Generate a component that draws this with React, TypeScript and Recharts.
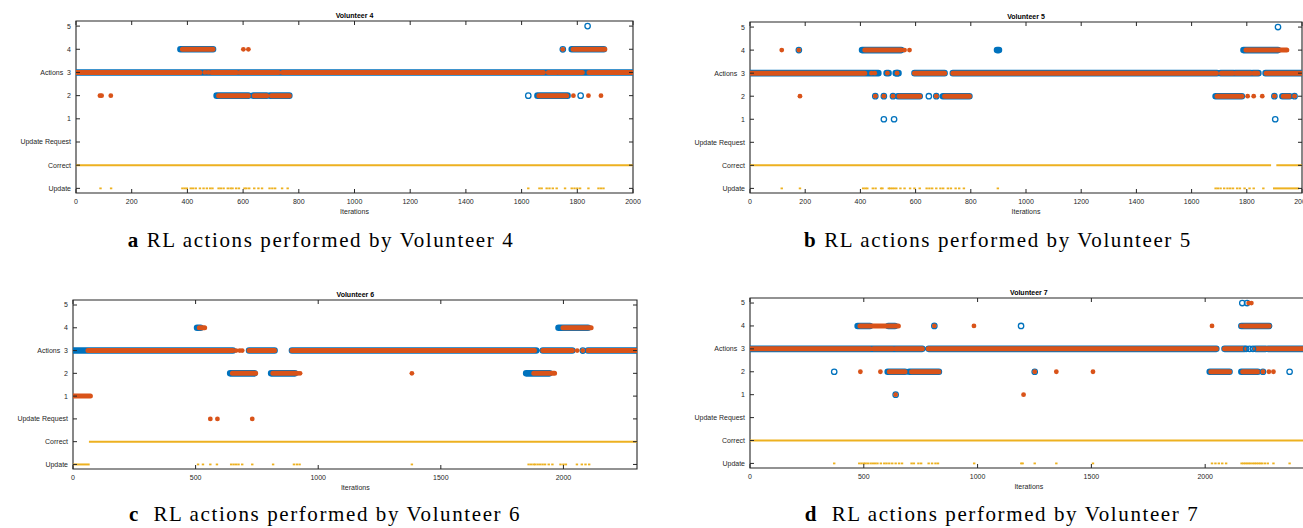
import React from 'react';
import { ComposedChart, Line, Scatter, XAxis, YAxis, ReferenceArea } from 'recharts';

const BLUE = '#0072BD';
const ORANGE = '#D95319';
const YELLOW = '#EDB120';
const INK = '#262626';
const SANS = '"Liberation Sans", Arial, Helvetica, sans-serif';

// y rows, bottom to top
const yLabels = ['Update', 'Correct', 'Update Request', '1', '2', 'Actions  3', '4', '5'];
const yTicks = [0, 1, 2, 3, 4, 5, 6, 7];
const yDomain = [-0.2, 7.22];

// action code -> row (Update Request = 0)
const rowOf = (code: number) => code + 2;

// runs are [action, from, to], dots are [action, iteration]
const v4BlueRuns = [[3, 0, 1995], [4, 375, 492], [4, 1780, 1895], [2, 505, 619], [2, 637, 685], [2, 697, 766], [2, 1657, 1765]];
const v4OrangeRuns = [[3, 0, 445], [3, 487, 577], [3, 589, 727], [3, 742, 1678], [3, 1696, 1725], [3, 1733, 1818], [3, 1842, 1995], [4, 382, 492], [4, 1785, 1899], [2, 512, 619], [2, 640, 685], [2, 702, 766], [2, 1662, 1762]];
const v4BlueDots = [[5, 1837], [2, 1624], [2, 1812], [4, 1748]];
const v4OrangeDots = [[4, 601], [4, 619], [4, 1748], [2, 86], [2, 92], [2, 125], [2, 1786], [2, 1840], [2, 1885], [3, 463], [3, 475]];
const v4Correct = [[0, 2000]];
const v4UpdateRuns: number[][] = [];
const v4UpdateDots = [88, 126, 382, 390, 398, 412, 420, 430, 445, 458, 470, 482, 490, 512, 520, 530, 545, 555, 562, 575, 585, 605, 612, 622, 640, 655, 668, 695, 705, 715, 740, 760, 1624, 1664, 1672, 1690, 1700, 1712, 1726, 1756, 1780, 1790, 1800, 1810, 1840, 1876, 1885, 1894];

const v5BlueRuns = [[3, 0, 465], [3, 495, 502], [3, 528, 538], [3, 596, 705], [3, 735, 1692], [3, 1705, 1752], [3, 1758, 1815], [3, 1822, 1842], [3, 1868, 1998], [4, 406, 548], [4, 895, 902], [4, 1788, 1913], [2, 536, 615], [2, 699, 795], [2, 1687, 1782], [2, 1929, 1955]];
const v5OrangeRuns = [[3, 0, 416], [3, 596, 705], [3, 735, 1690], [3, 1708, 1750], [3, 1760, 1813], [3, 1825, 1840], [3, 1870, 2000], [4, 416, 548], [4, 1797, 1945], [2, 540, 615], [2, 705, 795], [2, 1692, 1782], [2, 1932, 1955]];
const v5BlueDots = [[4, 177], [2, 454], [2, 485], [2, 518], [2, 648], [2, 675], [2, 1900], [2, 1973], [1, 485], [1, 522], [1, 1903], [5, 1913], [3, 533]];
const v5OrangeDots = [[4, 115], [4, 177], [4, 560], [4, 578], [3, 440], [3, 452], [3, 498], [3, 533], [2, 181], [2, 454], [2, 485], [2, 518], [2, 675], [2, 1803], [2, 1825], [2, 1856], [2, 1900], [2, 1973]];
const v5Correct = [[0, 1888], [1907, 2000]];
const v5UpdateRuns = [[1895, 1990]];
const v5UpdateDots = [115, 181, 410, 418, 425, 445, 455, 475, 480, 503, 508, 515, 522, 530, 545, 560, 580, 596, 615, 640, 650, 660, 675, 690, 700, 717, 728, 745, 758, 775, 898, 1687, 1695, 1705, 1718, 1730, 1740, 1750, 1765, 1775, 1792, 1810, 1825, 1860];

const v6BlueRuns = [[3, 0, 652], [3, 718, 822], [3, 893, 1889], [3, 1916, 2036], [3, 2100, 2298], [4, 506, 520], [4, 1980, 2100], [2, 641, 740], [2, 808, 905], [2, 1848, 1943]];
const v6OrangeRuns = [[3, 61, 652], [3, 718, 822], [3, 893, 1882], [3, 1916, 2036], [3, 2100, 2296], [4, 515, 537], [4, 1998, 2113], [2, 650, 745], [2, 815, 910], [2, 1879, 1964], [1, 0, 71]];
const v6BlueDots = [[3, 2079]];
const v6OrangeDots = [[3, 665], [3, 680], [3, 690], [3, 2056], [3, 2079], [2, 918], [2, 926], [2, 1382], [0, 560], [0, 589], [0, 731]];
const v6Correct = [[65, 2300]];
const v6UpdateRuns = [[0, 68]];
const v6UpdateDots = [510, 530, 560, 587, 645, 655, 665, 675, 690, 731, 816, 901, 913, 924, 1382, 1858, 1868, 1878, 1885, 1895, 1905, 1915, 1925, 1940, 1955, 1988, 2000, 2010, 2055, 2075, 2090, 2105];

const v7BlueRuns = [[3, 0, 757], [3, 785, 2049], [3, 2085, 2173], [3, 2221, 2266], [3, 2276, 2450], [4, 473, 527], [4, 608, 637], [4, 2159, 2281], [2, 605, 681], [2, 700, 830], [2, 2020, 2107], [2, 2159, 2231]];
const v7OrangeRuns = [[3, 0, 527], [3, 543, 627], [3, 640, 757], [3, 785, 2049], [3, 2085, 2173], [3, 2221, 2266], [3, 2276, 2450], [4, 483, 652], [4, 2170, 2281], [2, 612, 681], [2, 710, 830], [2, 2025, 2107], [2, 2165, 2231]];
const v7BlueDots = [[5, 2163], [5, 2184], [4, 810], [4, 1191], [2, 370], [2, 1251], [2, 2254], [2, 2371], [1, 640], [3, 2180], [3, 2195], [3, 2210]];
const v7OrangeDots = [[5, 2191], [5, 2203], [4, 810], [4, 984], [4, 2030], [4, 2159], [3, 783], [2, 485], [2, 573], [2, 1251], [2, 1346], [2, 1507], [2, 2254], [2, 2280], [2, 2300], [1, 640], [1, 1202]];
const v7Correct = [[0, 2450]];
const v7UpdateRuns: number[][] = [];
const v7UpdateDots = [370, 480, 490, 500, 508, 518, 530, 540, 550, 560, 575, 590, 600, 612, 625, 640, 655, 668, 710, 720, 740, 752, 785, 800, 815, 826, 985, 1192, 1198, 1251, 1346, 1507, 2030, 2045, 2060, 2075, 2092, 2160, 2168, 2176, 2184, 2192, 2200, 2210, 2218, 2226, 2234, 2242, 2250, 2262, 2275, 2300, 2371];

const ticks2000 = [0, 200, 400, 600, 800, 1000, 1200, 1400, 1600, 1800, 2000];
const ticks500 = [0, 500, 1000, 1500, 2000];

// turn [row, from, to] runs into one broken line
function runLine(runs: number[][]) {
  const out: { x: number; y: number | null }[] = [];
  runs.forEach(([row, a, b]) => {
    out.push({ x: a, y: row }, { x: b, y: row }, { x: b, y: null });
  });
  return out;
}

const actionRuns = (runs: number[][]) => runLine(runs.map(([c, a, b]) => [rowOf(c), a, b]));
const actionDots = (dots: number[][]) => dots.map(([c, x]) => ({ x, y: rowOf(c) }));

const Y_W = 75;
const M_T = 10;
const M_R = 25; // room for the last x tick label
const X_H = 30;

interface PanelProps {
  title: string;
  letter: string;
  caption: string;
  left: number;
  top: number;
  plotW: number;
  plotH: number;
  xMax: number;
  xTicks: number[];
  captionX: number;
  captionY: number;
  blueRuns: number[][];
  orangeRuns: number[][];
  blueDots: number[][];
  orangeDots: number[][];
  correct: number[][];
  updateRuns: number[][];
  updateDots: number[];
}

function Panel(p: PanelProps) {
  const yTick = (t: any) => (
    <g>
      <line x1={t.x} x2={t.x + 4} y1={t.y} y2={t.y} stroke={INK} />
      <line x1={t.x + p.plotW - 4} x2={t.x + p.plotW} y1={t.y} y2={t.y} stroke={INK} />
      <text x={t.x - 5} y={t.y} dy="0.35em" textAnchor="end" fontSize={7} fill={INK} fontFamily={SANS} style={{ whiteSpace: 'pre' }}>
        {yLabels[t.payload.value]}
      </text>
    </g>
  );
  const xTick = (t: any) => (
    <g>
      <line x1={t.x} x2={t.x} y1={t.y} y2={t.y - 4} stroke={INK} />
      <line x1={t.x} x2={t.x} y1={t.y - p.plotH} y2={t.y - p.plotH + 4} stroke={INK} />
      <text x={t.x} y={t.y + 11} textAnchor="middle" fontSize={7} fill={INK} fontFamily={SANS}>
        {t.payload.value}
      </text>
    </g>
  );

  const correctLine = runLine(p.correct.map(([a, b]) => [1, a, b]));
  const updateLine = runLine(p.updateRuns.map(([a, b]) => [0, a, b]));
  const updatePts = p.updateDots.map((x) => ({ x, y: 0 }));

  return (
    <>
      <div style={{ position: 'absolute', left: p.left - Y_W, top: p.top - M_T }}>
        <ComposedChart
          width={p.plotW + Y_W + M_R}
          height={p.plotH + M_T + X_H}
          margin={{ top: M_T, right: M_R, left: 0, bottom: 0 }}
        >
          <XAxis
            type="number"
            dataKey="x"
            domain={[0, p.xMax]}
            ticks={p.xTicks}
            interval={0}
            allowDataOverflow
            axisLine={false}
            tickLine={false}
            tickSize={0}
            tickMargin={0}
            height={X_H}
            tick={xTick}
          />
          <YAxis
            type="number"
            dataKey="y"
            domain={yDomain}
            ticks={yTicks}
            interval={0}
            allowDataOverflow
            axisLine={false}
            tickLine={false}
            tickSize={0}
            tickMargin={0}
            width={Y_W}
            tick={yTick}
          />
          <Line data={correctLine} dataKey="y" stroke={YELLOW} strokeWidth={2} dot={false} isAnimationActive={false} />
          <Line data={updateLine} dataKey="y" stroke={YELLOW} strokeWidth={2} dot={false} isAnimationActive={false} />
          <Scatter
            data={updatePts}
            fill={YELLOW}
            isAnimationActive={false}
            shape={(s: any) => <rect x={s.cx - 1.2} y={s.cy - 0.9} width={2.4} height={1.8} fill={YELLOW} />}
          />
          <Line data={actionRuns(p.blueRuns)} dataKey="y" stroke={BLUE} strokeWidth={6.6} strokeLinecap="round" dot={false} isAnimationActive={false} />
          <Scatter
            data={actionDots(p.blueDots)}
            fill={BLUE}
            isAnimationActive={false}
            shape={(s: any) => <circle cx={s.cx} cy={s.cy} r={2.7} fill="none" stroke={BLUE} strokeWidth={1.3} />}
          />
          <Line data={actionRuns(p.orangeRuns)} dataKey="y" stroke={ORANGE} strokeWidth={5} strokeLinecap="round" dot={false} isAnimationActive={false} />
          <Scatter
            data={actionDots(p.orangeDots)}
            fill={ORANGE}
            isAnimationActive={false}
            shape={(s: any) => <circle cx={s.cx} cy={s.cy} r={2.4} fill={ORANGE} />}
          />
          <ReferenceArea x1={0} x2={p.xMax} y1={yDomain[0]} y2={yDomain[1]} fill="none" stroke={INK} strokeWidth={1.1} ifOverflow="visible" />
        </ComposedChart>
      </div>
      <div style={{ position: 'absolute', left: p.left + p.plotW / 2, top: p.top - 6, transform: 'translate(-50%, -50%)', font: `bold 7px ${SANS}`, color: '#000', whiteSpace: 'nowrap' }}>
        {p.title}
      </div>
      <div style={{ position: 'absolute', left: p.left + p.plotW / 2, top: p.top + p.plotH + 18, transform: 'translate(-50%, -50%)', font: `7px ${SANS}`, color: INK, whiteSpace: 'nowrap' }}>
        Iterations
      </div>
      <div style={{ position: 'absolute', left: p.captionX, top: p.captionY, transform: 'translate(-50%, -50%)', fontFamily: '"Liberation Serif", "Times New Roman", serif', fontSize: 21, letterSpacing: 1.6, color: '#000', whiteSpace: 'pre' }}>
        <b>{p.letter}</b>{p.caption}
      </div>
    </>
  );
}

export default function App() {
  return (
    <div style={{ position: 'fixed', left: 0, top: 0, width: 1303, height: 528, overflow: 'hidden', background: '#fff' }}>
      <Panel
        title="Volunteer 4" letter="a" caption=" RL actions performed by Volunteer 4"
        left={76} top={21} plotW={557} plotH={172} xMax={2000} xTicks={ticks2000}
        captionX={321} captionY={240}
        blueRuns={v4BlueRuns} orangeRuns={v4OrangeRuns} blueDots={v4BlueDots} orangeDots={v4OrangeDots}
        correct={v4Correct} updateRuns={v4UpdateRuns} updateDots={v4UpdateDots}
      />
      <Panel
        title="Volunteer 5" letter="b" caption=" RL actions performed by Volunteer 5"
        left={750} top={21.5} plotW={552} plotH={171} xMax={2000} xTicks={ticks2000}
        captionX={998} captionY={240}
        blueRuns={v5BlueRuns} orangeRuns={v5OrangeRuns} blueDots={v5BlueDots} orangeDots={v5OrangeDots}
        correct={v5Correct} updateRuns={v5UpdateRuns} updateDots={v5UpdateDots}
      />
      <Panel
        title="Volunteer 6" letter="c" caption="  RL actions performed by Volunteer 6"
        left={73.3} top={300} plotW={564} plotH={169} xMax={2300} xTicks={ticks500}
        captionX={325} captionY={514}
        blueRuns={v6BlueRuns} orangeRuns={v6OrangeRuns} blueDots={v6BlueDots} orangeDots={v6OrangeDots}
        correct={v6Correct} updateRuns={v6UpdateRuns} updateDots={v6UpdateDots}
      />
      <Panel
        title="Volunteer 7" letter="d" caption="  RL actions performed by Volunteer 7"
        left={750} top={298} plotW={557.6} plotH={170} xMax={2450} xTicks={ticks500}
        captionX={1002} captionY={514}
        blueRuns={v7BlueRuns} orangeRuns={v7OrangeRuns} blueDots={v7BlueDots} orangeDots={v7OrangeDots}
        correct={v7Correct} updateRuns={v7UpdateRuns} updateDots={v7UpdateDots}
      />
    </div>
  );
}
